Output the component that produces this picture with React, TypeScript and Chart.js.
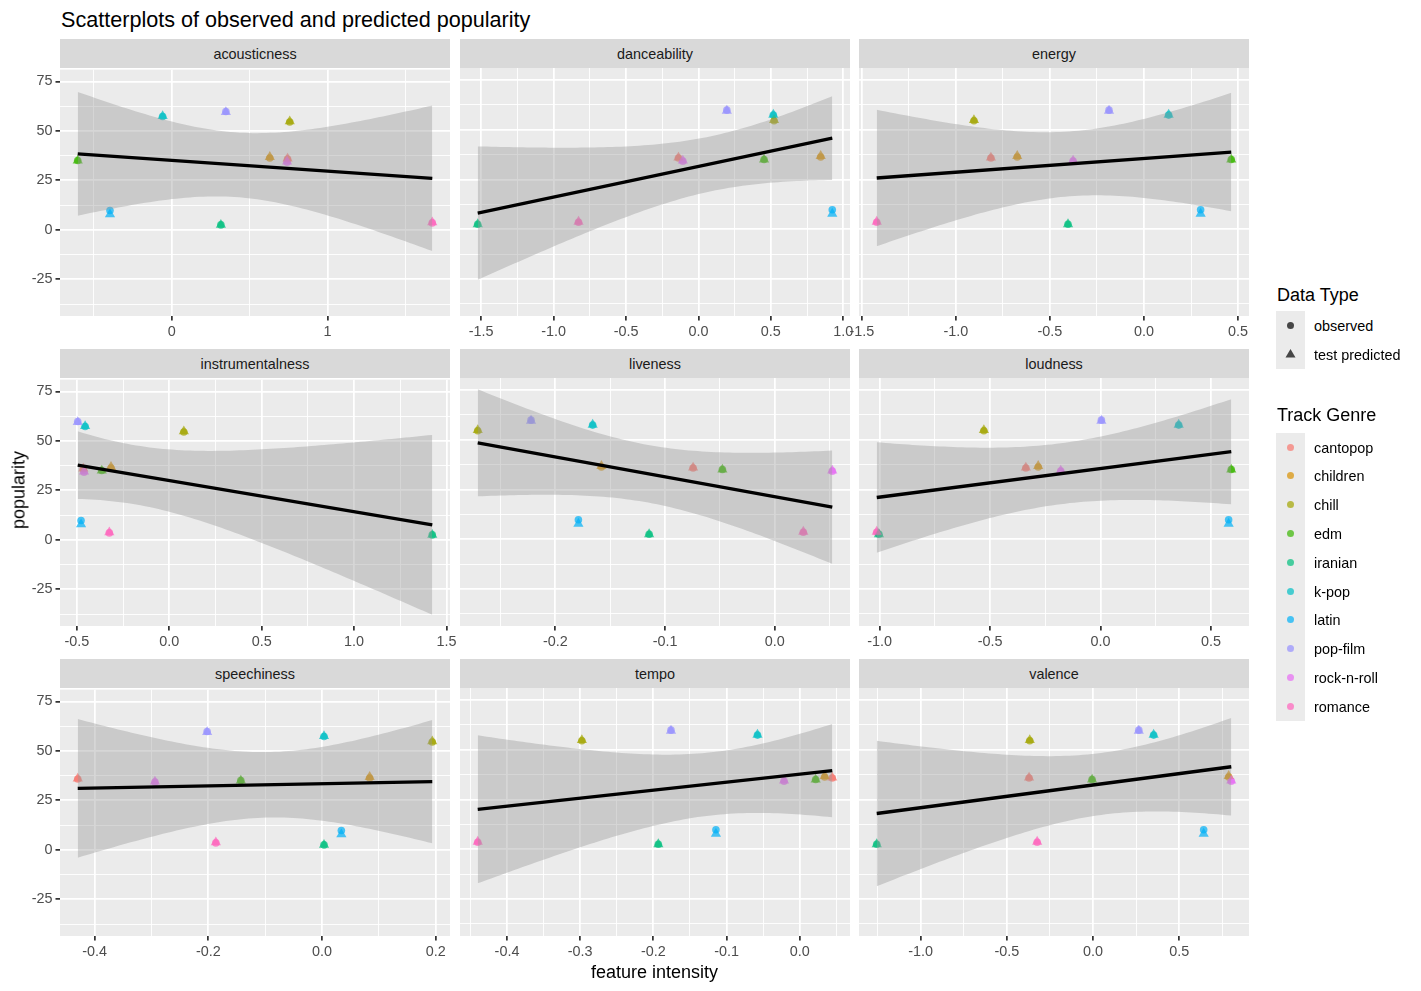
import React, { useEffect, useRef } from 'react';
import { Chart, registerables } from 'chart.js';

Chart.register(...registerables);

const FONT = "'Liberation Sans', Arial, Helvetica, sans-serif";
Chart.defaults.font.family = FONT;

// ---------------- data ----------------
const genres = ['cantopop', 'children', 'chill', 'edm', 'iranian', 'k-pop', 'latin', 'pop-film', 'rock-n-roll', 'romance'];
const genreColors = ['#F8766D', '#D89000', '#A3A500', '#39B600', '#00BF7D', '#00BFC4', '#00B0F6', '#9590FF', '#E76BF3', '#FF62BC'];

const observedPopularity = [35.8, 36.3, 54.5, 35.0, 2.5, 57.3, 9.8, 59.8, 34.2, 3.5];
const predictedPopularity = [36.0, 36.8, 54.8, 35.0, 2.5, 57.5, 7.8, 59.5, 34.5, 3.8];

const features = ['acousticness', 'danceability', 'energy', 'instrumentalness', 'liveness', 'loudness', 'speechiness', 'tempo', 'valence'];

// feature intensity per genre (same order as genres)
const acousticness = [0.744, 0.630, 0.758, -0.603, 0.316, -0.058, -0.396, 0.348, 0.741, 1.673];
const danceability = [-0.138, 0.844, 0.522, 0.453, -1.524, 0.517, 0.924, 0.196, -0.108, -0.828];
const energy = [-0.814, -0.674, -0.904, 0.464, -0.404, 0.131, 0.301, -0.186, -0.377, -1.421];
const instrumentalness = [-0.465, -0.315, 0.079, -0.365, 1.423, -0.455, -0.477, -0.495, -0.461, -0.324];
const liveness = [-0.0744, -0.158, -0.2708, -0.0477, -0.1145, -0.166, -0.179, -0.2222, 0.0525, 0.0261];
const loudness = [-0.338, -0.282, -0.528, 0.592, -1.003, 0.354, 0.580, 0.004, -0.180, -1.013];
const speechiness = [-0.4296, 0.0838, 0.1939, -0.1428, 0.0035, 0.0035, 0.034, -0.202, -0.2938, -0.1867];
const tempo = [0.0445, 0.0341, -0.2977, 0.0218, -0.1932, -0.0577, -0.1145, -0.1759, -0.0214, -0.440];
const valence = [-0.371, 0.786, -0.367, -0.0058, -1.254, 0.351, 0.641, 0.265, 0.801, -0.324];
const featureValues = [acousticness, danceability, energy, instrumentalness, liveness, loudness, speechiness, tempo, valence];

// tick breaks and labels
const acousticnessBreaks = [0, 1];
const acousticnessLabels = ['0', '1'];
const danceabilityBreaks = [-1.5, -1.0, -0.5, 0.0, 0.5, 1.0];
const danceabilityLabels = ['-1.5', '-1.0', '-0.5', '0.0', '0.5', '1.0'];
const energyBreaks = [-1.5, -1.0, -0.5, 0.0, 0.5];
const energyLabels = ['-1.5', '-1.0', '-0.5', '0.0', '0.5'];
const instrumentalnessBreaks = [-0.5, 0.0, 0.5, 1.0, 1.5];
const instrumentalnessLabels = ['-0.5', '0.0', '0.5', '1.0', '1.5'];
const livenessBreaks = [-0.2, -0.1, 0.0];
const livenessLabels = ['-0.2', '-0.1', '0.0'];
const loudnessBreaks = [-1.0, -0.5, 0.0, 0.5];
const loudnessLabels = ['-1.0', '-0.5', '0.0', '0.5'];
const speechinessBreaks = [-0.4, -0.2, 0.0, 0.2];
const speechinessLabels = ['-0.4', '-0.2', '0.0', '0.2'];
const tempoBreaks = [-0.4, -0.3, -0.2, -0.1, 0.0];
const tempoLabels = ['-0.4', '-0.3', '-0.2', '-0.1', '0.0'];
const valenceBreaks = [-1.0, -0.5, 0.0, 0.5];
const valenceLabels = ['-1.0', '-0.5', '0.0', '0.5'];
const xBreaks = [acousticnessBreaks, danceabilityBreaks, energyBreaks, instrumentalnessBreaks, livenessBreaks, loudnessBreaks, speechinessBreaks, tempoBreaks, valenceBreaks];
const xLabels = [acousticnessLabels, danceabilityLabels, energyLabels, instrumentalnessLabels, livenessLabels, loudnessLabels, speechinessLabels, tempoLabels, valenceLabels];

const yBreaks = [-25, 0, 25, 50, 75];
const yLabels = ['-25', '0', '25', '50', '75'];

const dataTypes = ['observed', 'test predicted'];

// ---------------- geom_smooth(method = "lm") statistics ----------------
const T_975_DF8 = 2.306004; // qt(0.975, df = 10 - 2)
const SMOOTH_N = 80;

function fitLm(xs: number[], ys: number[]) {
  const n = xs.length;
  const xbar = xs.reduce((a, b) => a + b, 0) / n;
  const ybar = ys.reduce((a, b) => a + b, 0) / n;
  let sxx = 0, sxy = 0;
  for (let i = 0; i < n; i++) {
    sxx += (xs[i] - xbar) ** 2;
    sxy += (xs[i] - xbar) * (ys[i] - ybar);
  }
  const slope = sxy / sxx;
  const intercept = ybar - slope * xbar;
  let sse = 0;
  for (let i = 0; i < n; i++) sse += (ys[i] - intercept - slope * xs[i]) ** 2;
  const s = Math.sqrt(sse / (n - 2));
  return { slope, intercept, s, n, xbar, sxx };
}

function withinRange(v: number, lo: number, hi: number) {
  return v >= lo - 1e-9 && v <= hi + 1e-9;
}

const panels = features.map((name, i) => {
  const xs = featureValues[i];
  const fit = fitLm(xs, observedPopularity);
  const xmin = Math.min(...xs);
  const xmax = Math.max(...xs);
  const line = [xmin, xmax].map((x) => ({ x, y: fit.intercept + fit.slope * x }));
  const lower: { x: number; y: number }[] = [];
  const upper: { x: number; y: number }[] = [];
  for (let k = 0; k < SMOOTH_N; k++) {
    const x = xmin + ((xmax - xmin) * k) / (SMOOTH_N - 1);
    const yhat = fit.intercept + fit.slope * x;
    const se = fit.s * Math.sqrt(1 / fit.n + (x - fit.xbar) ** 2 / fit.sxx);
    lower.push({ x, y: yhat - T_975_DF8 * se });
    upper.push({ x, y: yhat + T_975_DF8 * se });
  }
  const pad = 0.05 * (xmax - xmin);
  const xMin = xmin - pad;
  const xMax = xmax + pad;
  const breaks = xBreaks[i];
  const step = breaks.length > 1 ? breaks[1] - breaks[0] : 1;
  const minors: number[] = [];
  for (let k = 0; k <= breaks.length; k++) minors.push(breaks[0] + (k - 0.5) * step);
  const ticks = [...breaks, ...minors].filter((v) => withinRange(v, xMin, xMax)).sort((a, b) => a - b);
  return { name, xs, line, lower, upper, xMin, xMax, breaks, labels: xLabels[i], ticks };
});

const allY: number[] = [...observedPopularity, ...predictedPopularity];
panels.forEach((p) => {
  p.lower.forEach((d) => allY.push(d.y));
  p.upper.forEach((d) => allY.push(d.y));
});
const yLo = Math.min(...allY);
const yHi = Math.max(...allY);
const Y_MIN = yLo - 0.05 * (yHi - yLo);
const Y_MAX = yHi + 0.05 * (yHi - yLo);
const yStep = yBreaks[1] - yBreaks[0];
const yMinors: number[] = [];
for (let k = 0; k <= yBreaks.length; k++) yMinors.push(yBreaks[0] + (k - 0.5) * yStep);
const yTicks = [...yBreaks, ...yMinors].filter((v) => withinRange(v, Y_MIN, Y_MAX)).sort((a, b) => a - b);

// ---------------- layout ----------------
const COL_LEFT = [60, 460, 859];
const ROW_TOP = [68, 378, 688];
const PANEL_W = 390;
const PANEL_H = 248;
const STRIP_H = 29;
const PAD_TOP = 10;
const PAD_R = 25;
const XAXIS_H = 30;
const YAXIS_W = 55;

const TICK_FONT = 14.4;
const TICK_COLOR = '#4D4D4D';
const MAJOR_W = 1.75;
const MINOR_W = 0.9;

function hexA(hex: string, a: number) {
  const n = parseInt(hex.slice(1), 16);
  return `rgba(${(n >> 16) & 255},${(n >> 8) & 255},${n & 255},${a})`;
}
const POINT_ALPHA = 0.7;

const panelBg = {
  id: 'panelBg',
  beforeDraw(chart: any) {
    const { ctx, chartArea } = chart;
    ctx.save();
    ctx.fillStyle = '#EBEBEB';
    ctx.fillRect(chartArea.left, chartArea.top, chartArea.right - chartArea.left, chartArea.bottom - chartArea.top);
    ctx.restore();
  },
};

function isIn(list: number[], v: number) {
  return list.some((b) => Math.abs(b - v) < 1e-9);
}

function Panel({ idx }: { idx: number }) {
  const ref = useRef<HTMLCanvasElement>(null);
  const col = idx % 3;
  const row = Math.floor(idx / 3);
  const yW = col === 0 ? YAXIS_W : 0;
  const padL = col === 0 ? 5 : 25;
  const offL = padL + yW;
  const canvasW = offL + PANEL_W + PAD_R;
  const canvasH = PAD_TOP + PANEL_H + XAXIS_H;
  const p = panels[idx];

  useEffect(() => {
    if (!ref.current) return;
    const colors = genreColors.map((c) => hexA(c, POINT_ALPHA));
    const chart = new Chart(ref.current, {
      type: 'scatter',
      data: {
        datasets: [
          {
            label: 'fit',
            data: p.line,
            showLine: true,
            borderColor: '#000000',
            borderWidth: 3.3,
            pointRadius: 0,
            fill: false,
            order: 0,
          },
          {
            label: 'lower',
            data: p.lower,
            showLine: true,
            borderColor: 'rgba(0,0,0,0)',
            borderWidth: 1,
            pointRadius: 0,
            fill: false,
            order: 1,
          },
          {
            label: 'upper',
            data: p.upper,
            showLine: true,
            borderColor: 'rgba(0,0,0,0)',
            borderWidth: 1,
            pointRadius: 0,
            fill: 1,
            backgroundColor: 'rgba(153,153,153,0.4)',
            order: 1,
          },
          {
            label: dataTypes[1],
            data: p.xs.map((x, i) => ({ x, y: predictedPopularity[i] })),
            pointStyle: 'triangle',
            pointRadius: 5.9,
            pointBackgroundColor: colors,
            pointBorderWidth: 0,
            order: 2,
          },
          {
            label: dataTypes[0],
            data: p.xs.map((x, i) => ({ x, y: observedPopularity[i] })),
            pointStyle: 'circle',
            pointRadius: 3.8,
            pointBackgroundColor: colors,
            pointBorderWidth: 0,
            order: 3,
          },
        ] as any,
      },
      options: {
        animation: false,
        responsive: false,
        devicePixelRatio: window.devicePixelRatio || 1,
        layout: { padding: { left: padL, right: PAD_R, top: PAD_TOP, bottom: 0 } },
        plugins: { legend: { display: false }, tooltip: { enabled: false } },
        events: [],
        scales: {
          x: {
            type: 'linear',
            min: p.xMin,
            max: p.xMax,
            afterBuildTicks: (s: any) => {
              s.ticks = p.ticks.map((v) => ({ value: v }));
            },
            afterFit: (s: any) => {
              s.height = XAXIS_H;
            },
            border: { display: false },
            grid: {
              color: '#FFFFFF',
              lineWidth: (c: any) => (isIn(p.breaks, c.tick?.value) ? MAJOR_W : MINOR_W),
              drawTicks: true,
              tickLength: 4.5,
              tickWidth: MAJOR_W,
              tickColor: (c: any) => (isIn(p.breaks, c.tick?.value) ? '#333333' : 'rgba(0,0,0,0)'),
            },
            ticks: {
              autoSkip: false,
              maxRotation: 0,
              minRotation: 0,
              padding: 3,
              color: TICK_COLOR,
              font: { size: TICK_FONT, family: FONT },
              callback: (v: any) => {
                const j = p.breaks.findIndex((b) => Math.abs(b - Number(v)) < 1e-9);
                return j >= 0 ? p.labels[j] : '';
              },
            },
          },
          y: {
            type: 'linear',
            min: Y_MIN,
            max: Y_MAX,
            afterBuildTicks: (s: any) => {
              s.ticks = yTicks.map((v) => ({ value: v }));
            },
            afterFit: (s: any) => {
              s.width = yW;
            },
            border: { display: false },
            grid: {
              color: '#FFFFFF',
              lineWidth: (c: any) => (isIn(yBreaks, c.tick?.value) ? MAJOR_W : MINOR_W),
              drawTicks: col === 0,
              tickLength: 4.5,
              tickWidth: MAJOR_W,
              tickColor: (c: any) => (isIn(yBreaks, c.tick?.value) ? '#333333' : 'rgba(0,0,0,0)'),
            },
            ticks: {
              display: col === 0,
              autoSkip: false,
              padding: 3,
              color: TICK_COLOR,
              font: { size: TICK_FONT, family: FONT },
              callback: (v: any) => {
                const j = yBreaks.findIndex((b) => Math.abs(b - Number(v)) < 1e-9);
                return j >= 0 ? yLabels[j] : '';
              },
            },
          },
        },
      } as any,
      plugins: [panelBg],
    });
    return () => chart.destroy();
  }, []);

  return (
    <>
      <div
        style={{
          position: 'absolute',
          left: COL_LEFT[col],
          top: ROW_TOP[row] - STRIP_H,
          width: PANEL_W,
          height: STRIP_H,
          background: '#D9D9D9',
          color: '#1A1A1A',
          fontSize: TICK_FONT,
          display: 'flex',
          alignItems: 'center',
          justifyContent: 'center',
        }}
      >
        {p.name}
      </div>
      <canvas
        ref={ref}
        width={canvasW}
        height={canvasH}
        style={{ position: 'absolute', left: COL_LEFT[col] - offL, top: ROW_TOP[row] - PAD_TOP, width: canvasW, height: canvasH }}
      />
    </>
  );
}

function LegendKey({ top, children }: { top: number; children: React.ReactNode }) {
  return (
    <div style={{ position: 'absolute', left: 1276, top, width: 29, height: 29, background: '#EBEBEB' }}>
      <svg width={29} height={29} style={{ position: 'absolute', left: 0, top: 0 }}>
        {children}
      </svg>
    </div>
  );
}

function LegendLabel({ top, text }: { top: number; text: string }) {
  return (
    <div style={{ position: 'absolute', left: 1314, top: top + 1, height: 29, lineHeight: '29px', fontSize: 14.4, color: '#000', whiteSpace: 'nowrap' }}>
      {text}
    </div>
  );
}

export default function App() {
  const dtTop = 311;
  const gTop = 432.5;
  const keyH = 28.8;
  return (
    <div
      style={{
        position: 'absolute',
        left: 0,
        top: 0,
        width: 1421,
        height: 991,
        background: '#FFFFFF',
        fontFamily: FONT,
        overflow: 'hidden',
      }}
    >
      <div style={{ position: 'absolute', left: 61, top: 7, fontSize: 21.6, lineHeight: '26px', color: '#000', whiteSpace: 'nowrap' }}>
        Scatterplots of observed and predicted popularity
      </div>
      {features.map((_, i) => (
        <Panel key={i} idx={i} />
      ))}
      <div
        style={{
          position: 'absolute',
          left: 19,
          top: 490,
          fontSize: 18,
          color: '#000',
          whiteSpace: 'nowrap',
          transform: 'translate(-50%, -50%) rotate(-90deg)',
        }}
      >
        popularity
      </div>
      <div
        style={{
          position: 'absolute',
          left: 654.5,
          top: 972,
          fontSize: 18,
          color: '#000',
          whiteSpace: 'nowrap',
          transform: 'translate(-50%, -50%)',
        }}
      >
        feature intensity
      </div>

      {/* legend: Data Type */}
      <div style={{ position: 'absolute', left: 1277, top: 283, fontSize: 18, lineHeight: '24px', color: '#000', whiteSpace: 'nowrap' }}>
        Data Type
      </div>
      <LegendKey top={dtTop}>
        <circle cx={14.5} cy={14.5} r={3.5} fill="rgba(0,0,0,0.7)" />
      </LegendKey>
      <LegendKey top={dtTop + 29}>
        <polygon points="14.5,9 19.5,17.4 9.5,17.4" fill="rgba(0,0,0,0.7)" />
      </LegendKey>
      {dataTypes.map((t, i) => (
        <LegendLabel key={t} top={dtTop + i * 29} text={t} />
      ))}

      {/* legend: Track Genre */}
      <div style={{ position: 'absolute', left: 1277, top: 403, fontSize: 18, lineHeight: '24px', color: '#000', whiteSpace: 'nowrap' }}>
        Track Genre
      </div>
      {genres.map((g, i) => (
        <React.Fragment key={g}>
          <LegendKey top={gTop + i * keyH}>
            <circle cx={14.5} cy={14.5} r={3.5} fill={hexA(genreColors[i], POINT_ALPHA)} />
          </LegendKey>
          <LegendLabel top={gTop + i * keyH} text={g} />
        </React.Fragment>
      ))}
    </div>
  );
}
